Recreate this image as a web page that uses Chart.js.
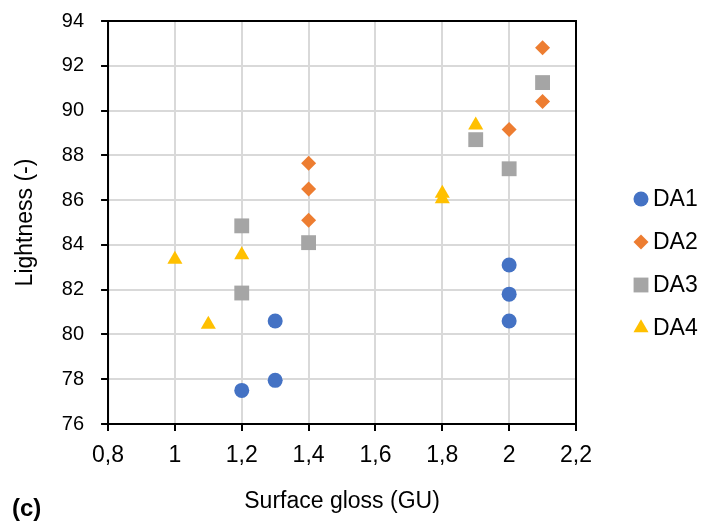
<!DOCTYPE html>
<html>
<head>
<meta charset="utf-8">
<script src="https://cdn.jsdelivr.net/npm/chart.js@4.4.1/dist/chart.umd.min.js"></script>
<style>
  html, body { margin: 0; padding: 0; background: #fff; }
  #wrap { position: relative; width: 701px; height: 527px; }
  #panel { position: absolute; left: 12px; top: 494px; font: bold 24px "Liberation Sans", Arial, sans-serif; color: #000; }
</style>
</head>
<body>
<div id="wrap">
  <canvas id="gloss-chart" width="701" height="527"></canvas>
  <div id="panel">(c)</div>
</div>
<script>
const seriesNames = ["DA1", "DA2", "DA3", "DA4"];
const colors = ["#4472C4", "#ED7D31", "#A5A5A5", "#FFC000"];

const da1Gloss = [1.2, 1.3, 1.3, 2.0, 2.0, 2.0];
const da1Lightness = [77.5, 77.95, 80.6, 83.1, 81.8, 80.6];
const da2Gloss = [1.4, 1.4, 1.4, 2.0, 2.1, 2.1];
const da2Lightness = [87.65, 86.5, 85.1, 89.15, 92.8, 90.4];
const da3Gloss = [1.2, 1.2, 1.4, 1.9, 2.0, 2.1];
const da3Lightness = [84.85, 81.85, 84.1, 88.7, 87.4, 91.25];
const da4Gloss = [1.0, 1.1, 1.2, 1.8, 1.8, 1.9];
const da4Lightness = [83.35, 80.45, 83.55, 86.3, 86.05, 89.35];

const xTickValues = [0.8, 1, 1.2, 1.4, 1.6, 1.8, 2, 2.2];
const xTickLabels = ["0,8", "1", "1,2", "1,4", "1,6", "1,8", "2", "2,2"];
const yTickValues = [76, 78, 80, 82, 84, 86, 88, 90, 92, 94];

const FONT = '"Liberation Sans", Arial, sans-serif';
const FONT_SIZE = 23;

function toPoints(xs, ys) {
    return xs.map((x, i) => ({ x: x, y: ys[i] }));
}

const series = [
    { gloss: da1Gloss, lightness: da1Lightness, style: "circle", radius: 7.5 },
    { gloss: da2Gloss, lightness: da2Lightness, style: "rectRot", radius: 7.5 },
    { gloss: da3Gloss, lightness: da3Lightness, style: "rect", radius: 10.5 },
    { gloss: da4Gloss, lightness: da4Lightness, style: "triangle", radius: 8.7 },
];

// black frame round the plot area (top and right sides have no axis)
const frame = {
    id: "frame",
    afterDatasetsDraw(chart) {
        const { ctx, chartArea: a } = chart;
        ctx.save();
        ctx.strokeStyle = "#000";
        ctx.lineWidth = 2;
        ctx.strokeRect(a.left, a.top, a.right - a.left, a.bottom - a.top);
        ctx.restore();
    },
};

// legend column to the right of the plot, marker right up against the name
const sideLegend = {
    id: "sideLegend",
    afterDraw(chart) {
        const { ctx, chartArea } = chart;
        const rowGap = 43;
        const sets = chart.data.datasets;
        const x = chartArea.right + 65;
        const top = chart.height / 2 - (rowGap * (sets.length - 1)) / 2;
        ctx.save();
        ctx.font = FONT_SIZE + "px " + FONT;
        ctx.textBaseline = "middle";
        sets.forEach((ds, i) => {
            const y = top + i * rowGap;
            ctx.fillStyle = ds.pointBackgroundColor;
            Chart.helpers.drawPoint(ctx, { pointStyle: ds.pointStyle, radius: ds.pointRadius, borderWidth: 0 }, x, y);
            ctx.fillStyle = "#000";
            ctx.fillText(ds.label, x + 12, y + 1);
        });
        ctx.restore();
    },
};

const canvas = document.querySelector("#gloss-chart");
new Chart(canvas, {
    type: "scatter",
    data: {
        datasets: series.map((s, i) => ({
            label: seriesNames[i],
            data: toPoints(s.gloss, s.lightness),
            pointStyle: s.style,
            pointRadius: s.radius,
            pointBackgroundColor: colors[i],
            pointBorderColor: colors[i],
            pointBorderWidth: 0,
            backgroundColor: colors[i],
            borderColor: colors[i],
        })),
    },
    options: {
        responsive: false,
        animation: false,
        devicePixelRatio: 1,
        events: [],
        layout: { padding: { top: 21, right: 125, bottom: 12, left: 11.7 } },
        plugins: {
            tooltip: { enabled: false },
            legend: { display: false },
        },
        scales: {
            x: {
                type: "linear",
                min: 0.8,
                max: 2.2,
                afterBuildTicks: (scale) => {
                    scale.ticks = xTickValues.map((v) => ({ value: v }));
                },
                ticks: {
                    padding: 11,
                    maxRotation: 0,
                    color: "#000",
                    font: { family: FONT, size: FONT_SIZE },
                    callback: (v, i) => xTickLabels[i],
                },
                grid: { color: "#d9d9d9", lineWidth: 2, tickColor: "#000", tickLength: 7, tickWidth: 2 },
                border: { color: "#000", width: 2 },
                title: {
                    display: true,
                    text: "Surface gloss (GU)",
                    color: "#000",
                    font: { family: FONT, size: FONT_SIZE },
                    padding: { top: 6.8, bottom: 0 },
                },
            },
            y: {
                min: 76,
                max: 94,
                afterBuildTicks: (scale) => {
                    scale.ticks = yTickValues.map((v) => ({ value: v }));
                },
                // the label gap should not push the plot top down
                afterFit: (scale) => {
                    scale.paddingTop = 0;
                    scale.paddingBottom = 0;
                },
                ticks: {
                    padding: 17,
                    color: "#000",
                    font: { family: FONT, size: 20 },
                },
                grid: { color: "#d9d9d9", lineWidth: 2, tickColor: "#000", tickLength: 7, tickWidth: 2 },
                border: { color: "#000", width: 2 },
                title: {
                    display: true,
                    text: "Lightness (-)",
                    color: "#000",
                    font: { family: FONT, size: FONT_SIZE },
                    padding: { top: 0, bottom: 5.5 },
                },
            },
        },
    },
    plugins: [frame, sideLegend],
});
</script>
</body>
</html>
